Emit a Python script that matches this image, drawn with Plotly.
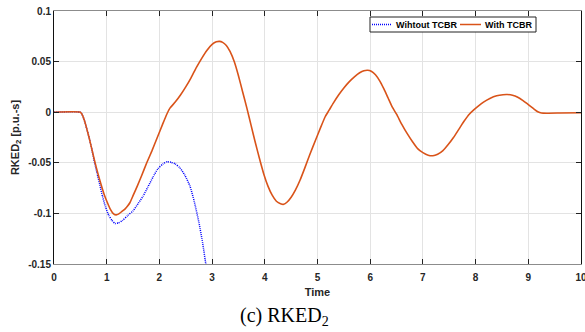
import plotly.graph_objects as go

# RKED_2 response without the TCBR (diverges after ~2.9 s)
t_without = [0.0, 0.50, 0.53, 0.57, 0.62, 0.67, 0.72, 0.77, 0.82, 0.87, 0.92, 0.98,
             1.04, 1.10, 1.16, 1.22, 1.30, 1.40, 1.50, 1.60, 1.69, 1.78, 1.88, 1.97,
             2.07, 2.14, 2.22, 2.30, 2.39, 2.48, 2.58, 2.66, 2.75, 2.82, 2.88, 2.94]
v_without = [0.0, 0.0, -0.002, -0.007, -0.016, -0.026, -0.037, -0.050, -0.061, -0.072,
             -0.083, -0.094, -0.102, -0.107, -0.110, -0.1095, -0.107, -0.102, -0.0975,
             -0.090, -0.083, -0.074, -0.064, -0.056, -0.051, -0.049, -0.0495, -0.051,
             -0.055, -0.062, -0.073, -0.088, -0.109, -0.129, -0.150, -0.170]

# RKED_2 response with the TCBR (damped oscillation)
t_with = [0.0, 0.50, 0.53, 0.57, 0.62, 0.67, 0.72, 0.77, 0.83, 0.89, 0.95, 1.01, 1.07,
          1.13, 1.18, 1.23, 1.29, 1.35, 1.40, 1.44, 1.50, 1.58, 1.66, 1.76, 1.86, 1.96,
          2.06, 2.14, 2.20, 2.30, 2.40, 2.50, 2.60, 2.70, 2.80, 2.90, 3.00, 3.08, 3.14,
          3.20, 3.27, 3.34, 3.42, 3.50, 3.58, 3.66, 3.74, 3.82, 3.90, 3.98, 4.06, 4.14,
          4.22, 4.30, 4.36, 4.42, 4.50, 4.58, 4.67, 4.76, 4.86, 4.96, 5.06, 5.15, 5.22,
          5.30, 5.40, 5.50, 5.60, 5.70, 5.80, 5.88, 5.95, 6.02, 6.10, 6.18, 6.26, 6.34,
          6.42, 6.50, 6.60, 6.70, 6.80, 6.90, 7.00, 7.10, 7.19, 7.28, 7.38, 7.48, 7.58,
          7.68, 7.78, 7.88, 7.96, 8.05, 8.15, 8.27, 8.40, 8.52, 8.60, 8.70, 8.80, 8.90,
          9.00, 9.10, 9.18, 9.25, 9.35, 9.60, 10.0]
v_with = [0.0, 0.0, -0.002, -0.007, -0.016, -0.026, -0.037, -0.048, -0.060, -0.071,
          -0.081, -0.089, -0.096, -0.1005, -0.1015, -0.1005, -0.098, -0.0955, -0.0925,
          -0.0895, -0.0825, -0.073, -0.063, -0.050, -0.038, -0.025, -0.012, -0.002,
          0.004, 0.010, 0.017, 0.025, 0.034, 0.044, 0.053, 0.061, 0.067, 0.0695, 0.070,
          0.069, 0.066, 0.060, 0.050, 0.036, 0.020, 0.004, -0.013, -0.030, -0.046,
          -0.061, -0.073, -0.082, -0.088, -0.0905, -0.091, -0.089, -0.084, -0.077,
          -0.067, -0.055, -0.041, -0.028, -0.015, -0.004, 0.002, 0.009, 0.017, 0.024,
          0.030, 0.035, 0.039, 0.041, 0.0415, 0.0405, 0.037, 0.031, 0.023, 0.014, 0.005,
          -0.002, -0.012, -0.021, -0.029, -0.036, -0.040, -0.0425, -0.043, -0.0415,
          -0.038, -0.032, -0.025, -0.017, -0.009, -0.002, 0.002, 0.006, 0.010, 0.0136,
          0.0162, 0.0173, 0.0175, 0.0168, 0.0148, 0.0115, 0.0075, 0.0035, 0.0005,
          -0.0008, -0.001, -0.0008, -0.0005]

x_ticks = [0, 1, 2, 3, 4, 5, 6, 7, 8, 9, 10]
y_ticks = [-0.15, -0.1, -0.05, 0, 0.05, 0.1]
y_tick_text = ["-0.15", "-0.1", "-0.05", "0", "0.05", "0.1"]

series_names = ["Wihtout TCBR", "With TCBR"]
series_colors = ["#0000FF", "#D95319"]

FONT = "Liberation Sans, Arial, sans-serif"
W, H = 585, 332
ML, MR, MT, MB = 54, 4, 11, 68


def px_x(px):
    """Horizontal page pixel -> paper fraction."""
    return (px - ML) / (W - ML - MR)


def px_y(py):
    """Vertical page pixel -> paper fraction."""
    return (H - MB - py) / (H - MT - MB)


fig = go.Figure()
fig.add_trace(go.Scatter(
    x=t_without, y=v_without, mode="lines", name=series_names[0],
    line=dict(color=series_colors[0], width=1.5, dash="1px,1px", shape="spline",
              smoothing=0.5),
))
fig.add_trace(go.Scatter(
    x=t_with, y=v_with, mode="lines", name=series_names[1],
    line=dict(color=series_colors[1], width=1.6, shape="spline", smoothing=0.5),
))

axis_common = dict(
    showgrid=True, gridcolor="#E3E3E3", gridwidth=1,
    zeroline=False, ticks="inside", ticklen=5, tickwidth=1, tickcolor="#222",
    tickfont=dict(family=FONT, size=10, color="#262626", weight="bold"),
    ticklabeloverflow="allow",
)

fig.update_xaxes(
    range=[0, 10], tickvals=x_ticks, showline=True, linecolor="#8C8C8C", linewidth=1,
    mirror="ticks", ticklabelstandoff=4,
    title=dict(text="Time", font=dict(family=FONT, size=11, color="#262626", weight="bold"),
               standoff=6),
    **axis_common,
)
fig.update_yaxes(
    range=[-0.15, 0.1], tickvals=y_ticks, ticktext=y_tick_text, showline=True,
    linecolor="#111", linewidth=1, mirror="ticks",
    title=dict(text="RKED<sub>2</sub> [p.u.-s]",
               font=dict(family=FONT, size=11, color="#262626", weight="bold"), standoff=6),
    **axis_common,
)

# Legend box drawn in page space: framed, one row, short line samples
legend_shapes = [dict(
    type="rect", xref="paper", yref="paper",
    x0=px_x(370), x1=px_x(536), y0=px_y(32), y1=px_y(17),
    line=dict(color="#222", width=1), fillcolor="white", layer="above",
)]
legend_notes = []
sample_x = [(372, 392, 394), (460, 481, 483)]
for (lx0, lx1, tx), name, color, dash in zip(sample_x, series_names, series_colors,
                                             ["1px,1px", "solid"]):
    legend_shapes.append(dict(
        type="line", xref="paper", yref="paper",
        x0=px_x(lx0), x1=px_x(lx1), y0=px_y(24.5), y1=px_y(24.5),
        line=dict(color=color, width=1.5, dash=dash), layer="above",
    ))
    legend_notes.append(dict(
        text=name, xref="paper", yref="paper", x=px_x(tx), y=px_y(24.5),
        xanchor="left", yanchor="middle", showarrow=False,
        font=dict(family=FONT, size=9, color="black", weight="bold"),
    ))

fig.update_layout(
    width=W, height=H,
    margin=dict(l=ML, r=MR, t=MT, b=MB, autoexpand=False),
    paper_bgcolor="white", plot_bgcolor="white",
    showlegend=False,
    shapes=legend_shapes,
    annotations=legend_notes + [dict(
        text="(c) RKED<sub>2</sub>", xref="paper", yref="paper",
        x=px_x(284), y=px_y(316), xanchor="center", yanchor="middle", showarrow=False,
        font=dict(family="Liberation Serif, Times New Roman, serif", size=20, color="black"),
    )],
)

fig.write_html("out.html")
